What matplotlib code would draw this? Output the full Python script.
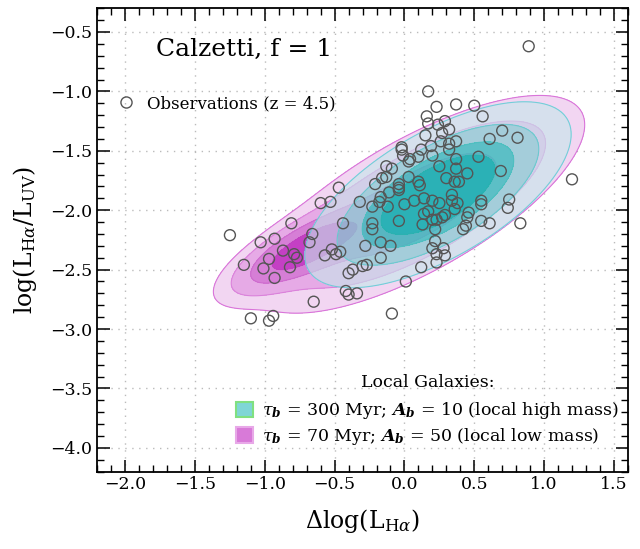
import numpy as np
import matplotlib
matplotlib.use("Agg")
import matplotlib.pyplot as plt
from matplotlib.patches import Patch
from matplotlib.lines import Line2D
from matplotlib.ticker import MultipleLocator

# ---------------- data ----------------
# Observations (z = 4.5): Delta log(L_Ha), log(L_Ha / L_UV)
obs_x = [0.89, 0.17, 0.23, 0.37, 0.50, 0.16, 0.56, 0.17, 0.24, 0.29,
         0.32, 0.27, 0.70, 0.15, 0.61, 0.81, 0.26, 0.32, 0.37, 0.19,
         0.32, -0.02, -0.02, 0.12, -0.01, 0.10, 0.04, 0.20, 0.03, 0.37,
         0.53, 0.25, 0.37, -0.13, -0.09, 0.69, 0.45, -0.16, -0.13, 0.03,
         0.30, 0.36, 0.39, 0.10, 0.11, -0.21, -0.04, -0.04, 1.20, -0.47,
         -0.11, -0.17, -0.04, 0.34, -0.32, -0.60, -0.53, -0.18, 0.07, 0.14,
         0.20, 0.00, 0.25, 0.34, 0.38, 0.55, 0.55, 0.75, 0.74, -0.23,
         -0.12, 0.36, 0.14, 0.17, 0.29, 0.46, 0.45, 0.20, 0.23, 0.27,
         -0.04, 0.13, -0.44, -0.23, -0.23, 0.44, 0.42, 0.55, 0.61, 0.83,
         0.22, -0.81, -1.25, -1.03, -0.93, -0.66, -0.68, -0.17, -0.10, -0.28,
         0.22, 0.20, 0.28, 0.23, 0.29, -0.87, -0.79, -0.77, -0.52, -0.46,
         -0.57, -0.49, -0.97, -0.17, -1.15, -1.01, -0.82, -0.30, -0.27, -0.37,
         -0.40, 0.12, 0.23, -0.93, 0.01, -0.42, -0.40, -0.34, -0.65, -0.09,
         -1.10, -0.94, -0.97]
obs_y = [-0.62, -1.00, -1.13, -1.11, -1.12, -1.21, -1.21, -1.27, -1.28, -1.25,
         -1.32, -1.35, -1.33, -1.37, -1.40, -1.39, -1.42, -1.44, -1.42, -1.46,
         -1.49, -1.47, -1.49, -1.49, -1.54, -1.55, -1.57, -1.54, -1.59, -1.57,
         -1.55, -1.63, -1.65, -1.63, -1.65, -1.67, -1.69, -1.73, -1.72, -1.72,
         -1.73, -1.76, -1.76, -1.76, -1.79, -1.78, -1.78, -1.81, -1.74, -1.81,
         -1.85, -1.89, -1.83, -1.87, -1.93, -1.94, -1.93, -1.93, -1.92, -1.90,
         -1.92, -1.95, -1.94, -1.92, -1.94, -1.92, -1.95, -1.91, -1.98, -1.97,
         -1.97, -1.99, -2.03, -2.01, -2.04, -2.02, -2.06, -2.08, -2.08, -2.06,
         -2.09, -2.12, -2.11, -2.11, -2.16, -2.13, -2.16, -2.09, -2.11, -2.11,
         -2.16, -2.11, -2.21, -2.27, -2.24, -2.20, -2.27, -2.27, -2.30, -2.30,
         -2.26, -2.32, -2.32, -2.37, -2.38, -2.34, -2.37, -2.40, -2.33, -2.35,
         -2.38, -2.37, -2.41, -2.40, -2.46, -2.49, -2.48, -2.47, -2.46, -2.50,
         -2.53, -2.48, -2.44, -2.57, -2.60, -2.68, -2.71, -2.70, -2.77, -2.87,
         -2.91, -2.89, -2.93]

# Local galaxy populations, described as Gaussian components
# (weight, mean x, mean y, sigma x, sigma y, correlation)
low_w   = [0.25, 0.75]
low_mx  = [-0.72, 0.10]
low_my  = [-2.33, -1.95]
low_sx  = [0.25, 0.52]
low_sy  = [0.18, 0.40]
low_rho = [0.75, 0.73]
low_frac = [0.95, 0.85, 0.60, 0.15]

high_w   = [1.0]
high_mx  = [0.24]
high_my  = [-1.87]
high_sx  = [0.39]
high_sy  = [0.32]
high_rho = [0.65]
high_frac = [0.95, 0.82, 0.62, 0.42]

label_high = r'$\tau_{\boldsymbol{b}}$ = 300 Myr; $\boldsymbol{A}_{\boldsymbol{b}}$ = 10 (local high mass)'
label_low = r'$\tau_{\boldsymbol{b}}$ = 70 Myr; $\boldsymbol{A}_{\boldsymbol{b}}$ = 50 (local low mass)'

# ---------------- style ----------------
plt.rcParams['font.family'] = ['DejaVu Serif']
plt.rcParams['mathtext.fontset'] = 'dejavuserif'

fig = plt.figure(figsize=(6.4, 5.49), dpi=100)
ax = fig.add_axes([0.152, 0.141, 0.829, 0.844])

gx = np.linspace(-2.2, 1.6, 400)
gy = np.linspace(-4.2, -0.3, 400)
GX, GY = np.meshgrid(gx, gy)


def density(w, mx, my, sx, sy, rho):
    Z = np.zeros_like(GX)
    for wi, a, b, s1, s2, r in zip(w, mx, my, sx, sy, rho):
        dx = (GX - a) / s1
        dy = (GY - b) / s2
        q = (dx**2 - 2 * r * dx * dy + dy**2) / (1 - r**2)
        Z += wi * np.exp(-0.5 * q) / (2 * np.pi * s1 * s2 * np.sqrt(1 - r**2))
    return Z


def hdr_levels(Z, fracs):
    z = np.sort(Z.ravel())[::-1]
    c = np.cumsum(z)
    c /= c[-1]
    lv = [z[np.searchsorted(c, f)] for f in fracs]
    return sorted(lv) + [Z.max() * 1.01]


Zl = density(low_w, low_mx, low_my, low_sx, low_sy, low_rho)
Zh = density(high_w, high_mx, high_my, high_sx, high_sy, high_rho)
Ll = hdr_levels(Zl, low_frac)
Lh = hdr_levels(Zh, high_frac)

pink_fill = ['#f2d6f2', '#e6aae6', '#d67ed6', '#c440c4']
cyan_fill = [(198 / 255, 231 / 255, 234 / 255, 0.62), (137 / 255, 220 / 255, 214 / 255, 0.70),
             (57 / 255, 197 / 255, 190 / 255, 0.80), (24 / 255, 183 / 255, 179 / 255, 0.90)]

ax.contourf(GX, GY, Zl, levels=Ll, colors=pink_fill, zorder=1)
ax.contour(GX, GY, Zl, levels=Ll[:-1], colors=['#d35cd3', '#d878d8', '#cc66cc', '#c040c0'],
           linewidths=0.8, alpha=0.8, zorder=1)
ax.contourf(GX, GY, Zh, levels=Lh, colors=cyan_fill, zorder=2)
ax.contour(GX, GY, Zh, levels=Lh[:-1], colors=['#5cc8d4', '#62c2cc', '#50bcc0', '#30b0b0'],
           linewidths=0.8, alpha=0.8, zorder=2)

ax.scatter(obs_x, obs_y, s=62, facecolors='none', edgecolors='#555555',
           linewidths=1.0, zorder=3)

ax.set_xlim(-2.2, 1.6)
ax.set_ylim(-4.2, -0.3)
ax.xaxis.set_major_locator(MultipleLocator(0.5))
ax.xaxis.set_minor_locator(MultipleLocator(0.1))
ax.yaxis.set_major_locator(MultipleLocator(0.5))
ax.yaxis.set_minor_locator(MultipleLocator(0.1))
ax.tick_params(which='both', direction='in', top=True, right=True, labelsize=12.5)
ax.tick_params(which='major', length=9, width=1.1)
ax.tick_params(which='minor', length=5, width=1.0)
for s in ax.spines.values():
    s.set_linewidth(1.3)
ax.grid(True, which='major', linestyle=(0, (1, 4)), color='#bbbbbb', linewidth=1.0, zorder=0)
ax.set_axisbelow(True)

ax.set_xlabel(r'$\Delta\log(\mathrm{L}_{\mathrm{H}\alpha})$', fontsize=17, labelpad=10)
ax.set_ylabel(r'$\log(\mathrm{L}_{\mathrm{H}\alpha}/\mathrm{L}_{\mathrm{UV}})$', fontsize=17, labelpad=8)

ax.text(0.11, 0.91, 'Calzetti, f = 1', transform=ax.transAxes, fontsize=18,
        va='center', ha='left')

h_obs = Line2D([], [], linestyle='none', marker='o', markersize=8,
               markerfacecolor='none', markeredgecolor='#555555', markeredgewidth=1.0)
leg1 = ax.legend([h_obs], ['Observations (z = 4.5)'], loc='upper left',
                 bbox_to_anchor=(0.0, 0.838), frameon=False, fontsize=12,
                 handletextpad=0.3, borderaxespad=0.3)
ax.add_artist(leg1)

h_hi = Patch(facecolor='#7fd6d6', edgecolor='#80e080', linewidth=1.5)
h_lo = Patch(facecolor='#d87ad8', edgecolor='#e8a8e8', linewidth=1.5)
leg2 = ax.legend([h_hi, h_lo], [label_high, label_low], loc='lower right',
                 bbox_to_anchor=(1.012, 0.02), frameon=False, fontsize=12.5,
                 title='Local Galaxies:', title_fontsize=12.5,
                 handlelength=1.0, handleheight=1.0, handletextpad=0.5,
                 labelspacing=0.25)
leg2._legend_box.sep = 7

fig.savefig('out.png', dpi=100)
